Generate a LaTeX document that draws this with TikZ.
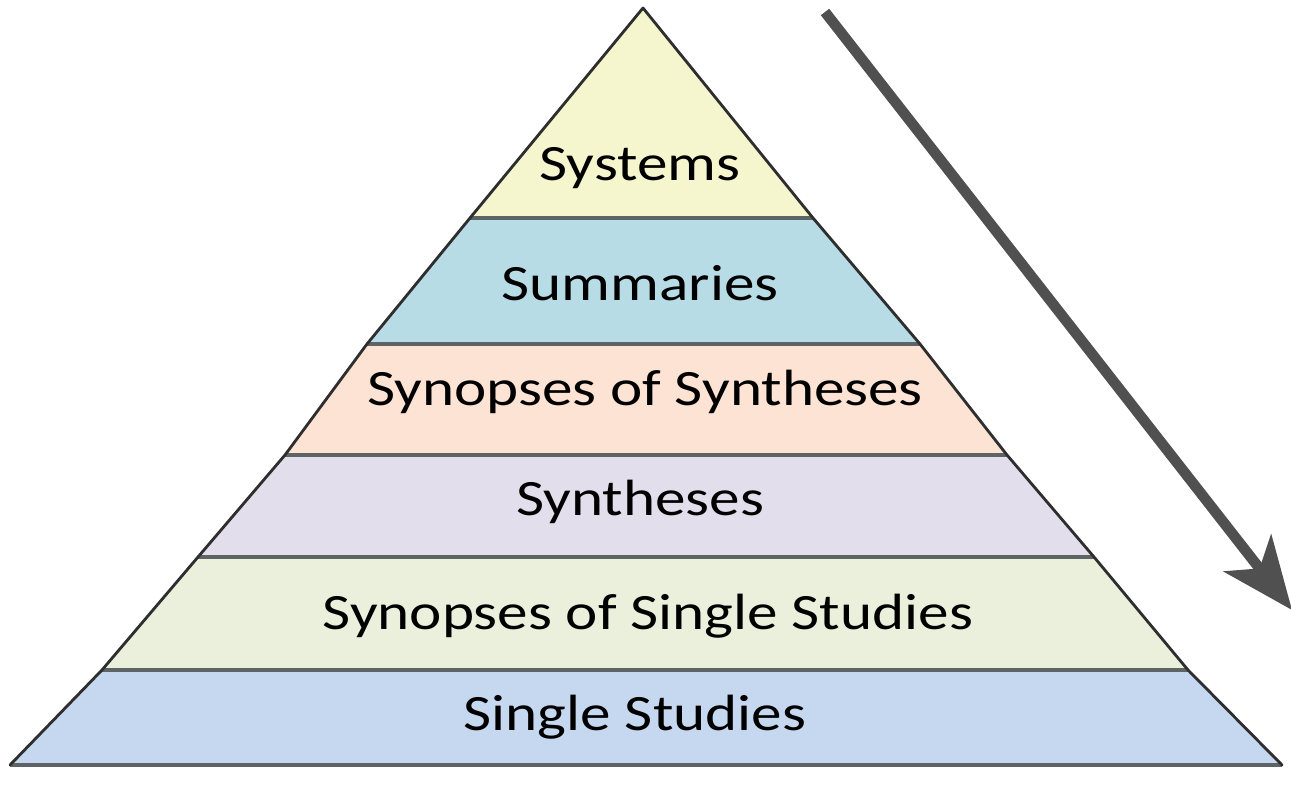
\documentclass[tikz,border=0pt]{standalone}
\usepackage{fontspec}
\setmainfont{Carlito}
\usetikzlibrary{arrows.meta}
\definecolor{cSys}{HTML}{F6F6CE}
\definecolor{cSum}{HTML}{B8DCE6}
\definecolor{cSoS}{HTML}{FCE3D4}
\definecolor{cSyn}{HTML}{E3DEEB}
\definecolor{cSSS}{HTML}{EAF0DC}
\definecolor{cSS}{HTML}{C6D8EF}
\definecolor{edge}{HTML}{2E2E2E}
\definecolor{sep}{HTML}{5E6466}
\definecolor{arrowc}{HTML}{505050}
\tikzset{
  lbl/.style={font=\fontsize{29pt}{32pt}\selectfont, text=black, inner sep=0pt},
  sideline/.style={draw=edge, line width=1.6pt, line cap=round, line join=round},
  sepline/.style={draw=sep, line width=2.2pt},
  bigarrow/.style={draw=arrowc, line width=6pt, -{Stealth[length=41pt, width=34pt, inset=11pt]}}
}
\newcommand{\wide}[1]{\scalebox{1.2}[1]{#1}}
\begin{document}
\begin{tikzpicture}[x=0.02cm, y=-0.02cm]
\useasboundingbox (0,0) rectangle (1291,785);
\fill[white] (0,0) rectangle (1291,785);
% corner points
\coordinate (apex) at (643,8);
\coordinate (l1) at (470,218); \coordinate (r1) at (813,218);
\coordinate (l2) at (367,344); \coordinate (r2) at (920,344);
\coordinate (l3) at (285,455); \coordinate (r3) at (1007,455);
\coordinate (l4) at (198,557); \coordinate (r4) at (1094,557);
\coordinate (l5) at (102,670); \coordinate (r5) at (1188,670);
\coordinate (l6) at (10,765);  \coordinate (r6) at (1282,765);
% fills
\fill[cSys] (apex) -- (r1) -- (l1) -- cycle;
\fill[cSum] (l1) -- (r1) -- (r2) -- (l2) -- cycle;
\fill[cSoS] (l2) -- (r2) -- (r3) -- (l3) -- cycle;
\fill[cSyn] (l3) -- (r3) -- (r4) -- (l4) -- cycle;
\fill[cSSS] (l4) -- (r4) -- (r5) -- (l5) -- cycle;
\fill[cSS]  (l5) -- (r5) -- (r6) -- (l6) -- cycle;
% separators
\draw[sepline] (l1) -- (r1);
\draw[sepline] (l2) -- (r2);
\draw[sepline] (l3) -- (r3);
\draw[sepline] (l4) -- (r4);
\draw[sepline] (l5) -- (r5);
\draw[sepline] (l6) -- (r6);
% sides
\draw[sideline] (l6) -- (l5) -- (l4) -- (l3) -- (l2) -- (l1) -- (apex) -- (r1) -- (r2) -- (r3) -- (r4) -- (r5) -- (r6);
% labels
\node[lbl] (t1) at (640,168) {\wide{Systems}};
\node[lbl] (t2) at (640,283) {\wide{Summaries}};
\node[lbl] (t3) at (645,392) {\wide{Synopses of Syntheses}};
\node[lbl] (t4) at (640,502) {\wide{Syntheses}};
\node[lbl] (t5) at (648,616) {\wide{Synopses of Single Studies}};
\node[lbl] (t6) at (635,717) {\wide{Single Studies}};
% arrow
\coordinate (as) at (825,12);
\coordinate (ae) at (1292,610);
\begin{scope}
\clip (0,0) rectangle (1291,785);
\draw[bigarrow] (as) -- (ae);
\end{scope}
\end{tikzpicture}
\end{document}
